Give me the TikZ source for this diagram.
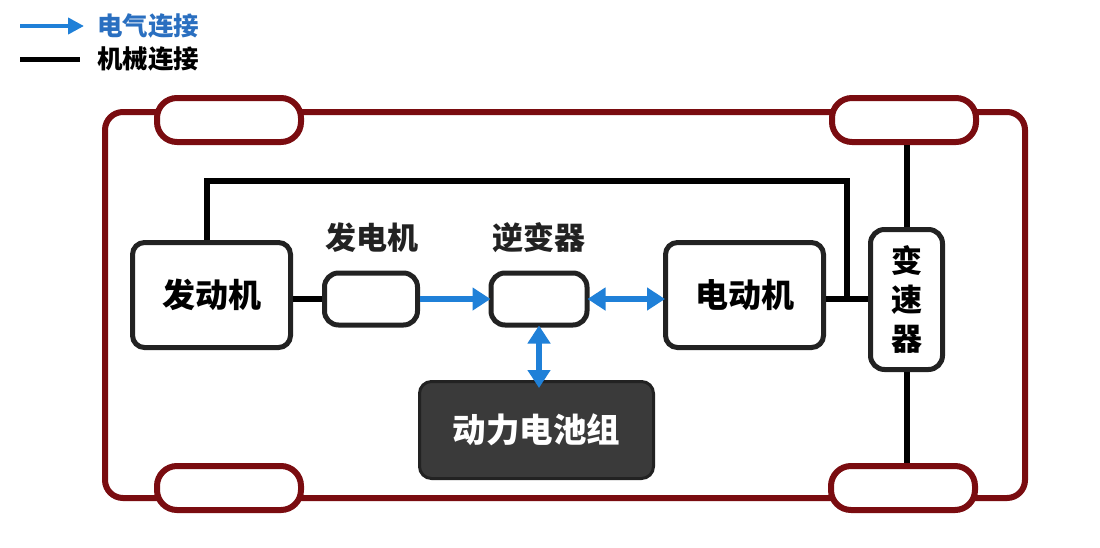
\documentclass[tikz,border=0pt]{standalone}
\usepackage{fontspec}
\newfontfamily\cjk{Noto Sans CJK SC}
\usetikzlibrary{arrows.meta}
\definecolor{framec}{HTML}{7A0C10}
\definecolor{elec}{HTML}{1F80D8}
\definecolor{electext}{HTML}{2A6FC0}
\definecolor{boxln}{HTML}{222222}
\definecolor{batt}{HTML}{3A3A3A}
\begin{document}
\begin{tikzpicture}[x=1pt,y=-1pt,
  wheel/.style={draw=framec, line width=6pt, fill=white, rounded corners=20pt, minimum width=144pt, minimum height=44pt, inner sep=0pt},
  bigbox/.style={draw=boxln, line width=5pt, fill=white, rounded corners=12pt, inner sep=0pt, font=\cjk\bfseries\fontsize{33}{38}\selectfont},
  smallbox/.style={draw=boxln, line width=5pt, fill=white, rounded corners=14pt, minimum width=93pt, minimum height=52pt, inner sep=0pt},
  lbl/.style={font=\cjk\bfseries\fontsize{31}{34}\selectfont, text=boxln, inner sep=0pt},
  mech/.style={draw=black, line width=6pt},
  etip/.tip={Triangle[length=18pt,width=22pt]},
  elecarrow/.style={draw=elec, line width=6pt, -etip},
  elecboth/.style={draw=elec, line width=6pt, etip-etip},
  legtext/.style={font=\cjk\bfseries\fontsize{25.5}{28}\selectfont, inner sep=0pt, anchor=west}
]
\useasboundingbox (0,0) rectangle (1100,547);
\fill[white] (0,0) rectangle (1100,547);

% frame
\draw[framec, line width=6pt, rounded corners=18pt] (105,112) rectangle (1025,498);

% wheels
\node[wheel] (wTL) at (229,120) {};
\node[wheel] (wTR) at (904,120) {};
\node[wheel] (wBL) at (229,488) {};
\node[wheel] (wBR) at (903,488) {};

% components
\node[bigbox, minimum width=158pt, minimum height=105pt] (eng) at (211.5,295) {发动机};
\node[smallbox] (gen) at (371,299) {};
\node[smallbox, minimum width=96pt] (inv) at (539,299) {};
\node[bigbox, minimum width=158pt, minimum height=105pt] (mot) at (744.5,295) {电动机};
\node[bigbox, minimum width=72pt, minimum height=140pt, rounded corners=14pt, align=center, font=\cjk\bfseries\fontsize{31}{39}\selectfont] (trans) at (906.5,299.5) {变\\速\\器};
\node[draw=boxln, line width=3pt, fill=batt, rounded corners=12pt, minimum width=234pt, minimum height=97pt, inner sep=0pt, text=white, font=\cjk\bfseries\fontsize{33.5}{38}\selectfont] (bat) at (536.5,430) {动力电池组};

\node[lbl] (genl) at (372,238) {发电机};
\node[lbl] (invl) at (539,238) {逆变器};

% mechanical connections
\coordinate (topL) at (207,181);
\coordinate (topR) at (847,181);
\coordinate (jn) at (847,299);
\draw[mech] (eng.north -| topL) -- (topL) -- (topR) -- (jn);
\draw[mech] (mot.east |- jn) -- (trans.west |- jn);
\draw[mech] (eng.east |- gen.west) -- (gen.west);
\draw[mech] (trans.north) -- (trans.north |- wTR.south);
\draw[mech] (trans.south) -- (trans.south |- wBR.north);

% electrical connections
\draw[elecarrow] (gen.east) -- ([xshift=2pt]inv.west);
\draw[elecboth] ([xshift=-2pt]inv.east) -- ([xshift=2pt]mot.west |- inv.east);
\draw[elecboth] ([yshift=2pt]inv.south) -- ([yshift=-8pt]bat.north -| inv.south);

% legend
\coordinate (lb1) at (20,26);
\coordinate (lb2) at (84,26);
\coordinate (lk1) at (20,59);
\coordinate (lk2) at (80,59);
\draw[draw=elec, line width=4.5pt, -{Triangle[length=16pt,width=16pt]}] (lb1) -- (lb2);
\draw[draw=black, line width=5pt] (lk1) -- (lk2);
\node[legtext, text=electext] (leg1) at (97,26) {电气连接};
\node[legtext, text=black] (leg2) at (97,59) {机械连接};
\end{tikzpicture}
\end{document}
